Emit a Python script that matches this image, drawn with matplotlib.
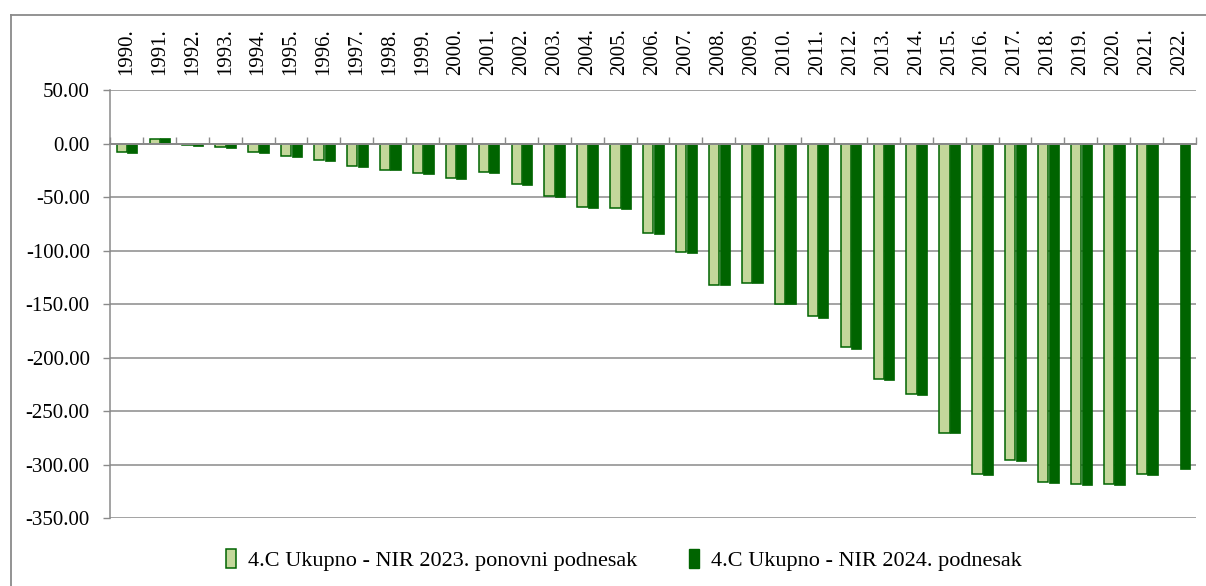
import numpy as np
import matplotlib
matplotlib.use("Agg")
import matplotlib.pyplot as plt
from matplotlib.lines import Line2D
from matplotlib.patches import Patch

# Categories and series (4.C Ukupno, kt CO2 eq)
years = [f"{y}." for y in range(1990, 2023)]
nir2023 = [-8.3, 4.5, -1.6, -3.2, -8.3, -11.8, -15.8, -21.3, -24.3, -27.8,
           -32.4, -26.8, -38.0, -49.2, -59.4, -60.4, -83.3, -101.5, -131.7, -129.8,
           -149.5, -161.4, -190.4, -219.7, -233.7, -270.1, -308.4, -295.7, -315.8, -317.8,
           -317.8, -308.4, np.nan]
nir2024 = [-8.9, 5.1, -2.0, -3.9, -8.9, -12.6, -16.4, -22.0, -24.8, -28.5,
           -33.2, -27.9, -38.8, -50.0, -60.3, -61.2, -84.1, -102.3, -132.5, -130.6,
           -150.3, -162.7, -191.5, -220.5, -234.5, -270.8, -309.4, -296.4, -317.0, -318.8,
           -318.8, -309.4, -303.8]
series_names = ["4.C Ukupno - NIR 2023. ponovni podnesak",
                "4.C Ukupno - NIR 2024. podnesak"]
y_ticks = [50, 0, -50, -100, -150, -200, -250, -300, -350]

LIGHT = "#c4d79b"
DARK = "#006400"
GRAY = "#8a8a8a"
FONT = "Liberation Serif"

plt.rcParams["font.family"] = [FONT, "DejaVu Serif"]

fig = plt.figure(figsize=(12.06, 5.86), dpi=100)
ax = fig.add_axes([110 / 1206, 1 - 518.3 / 586, (1196 - 110) / 1206, (518.3 - 90) / 586])

x = np.arange(len(years))
w = 0.31
ax.bar(x - 0.142, nir2023, width=w, color=LIGHT, edgecolor=DARK, linewidth=1.1, zorder=3)
ax.bar(x + 0.177, nir2024, width=w, color=DARK, edgecolor=DARK, linewidth=0.5, zorder=3)

ax.set_xlim(-0.5, len(years) - 0.5)
ax.set_ylim(-350, 50)

# y axis: grid, ticks and labels
ax.set_yticks(y_ticks)
ax.set_yticklabels([f"{v:.2f}" for v in y_ticks])
ax.yaxis.grid(True, color=GRAY, linewidth=1.1, zorder=1)
ax.set_axisbelow(True)
ax.tick_params(axis="y", direction="out", length=5, width=1.0, color=GRAY,
               pad=9.5, labelsize=15, labelcolor="black")

# x axis sits at zero with boundary ticks pointing up
ax.spines["bottom"].set_position(("data", 0))
ax.spines["bottom"].set_color(GRAY)
ax.spines["bottom"].set_linewidth(1.4)
ax.spines["bottom"].set_zorder(4)
ax.set_xticks(np.arange(-0.5, len(years), 1.0))
ax.set_xticklabels([])
ax.tick_params(axis="x", direction="in", length=5, width=1.0, color=GRAY)
ax.spines["left"].set_color(GRAY)
ax.spines["left"].set_linewidth(1.1)
ax.spines["top"].set_visible(False)
ax.spines["right"].set_visible(False)

# year labels along the top
top = ax.secondary_xaxis("top")
top.set_xticks(x)
top.set_xticklabels(years, rotation=90, fontsize=15)
top.tick_params(length=0, pad=11)
top.spines["top"].set_visible(False)

# legend
handles = [Patch(facecolor=LIGHT, edgecolor=DARK, linewidth=1.1),
           Patch(facecolor=DARK, edgecolor=DARK)]
fig.legend(handles, series_names, loc="center", bbox_to_anchor=(624 / 1206, 1 - 560 / 586),
           ncol=2, frameon=False, fontsize=16, handlelength=0.45, handleheight=0.95,
           handletextpad=0.55, columnspacing=2.3)

# outer chart frame
fig.add_artist(Line2D([11 / 1206, 11 / 1206], [1 - 15 / 586, 0], transform=fig.transFigure,
                      color=GRAY, linewidth=1.3))
fig.add_artist(Line2D([11 / 1206, 1], [1 - 15 / 586, 1 - 15 / 586], transform=fig.transFigure,
                      color=GRAY, linewidth=1.3))

fig.savefig("out.png", dpi=100)
